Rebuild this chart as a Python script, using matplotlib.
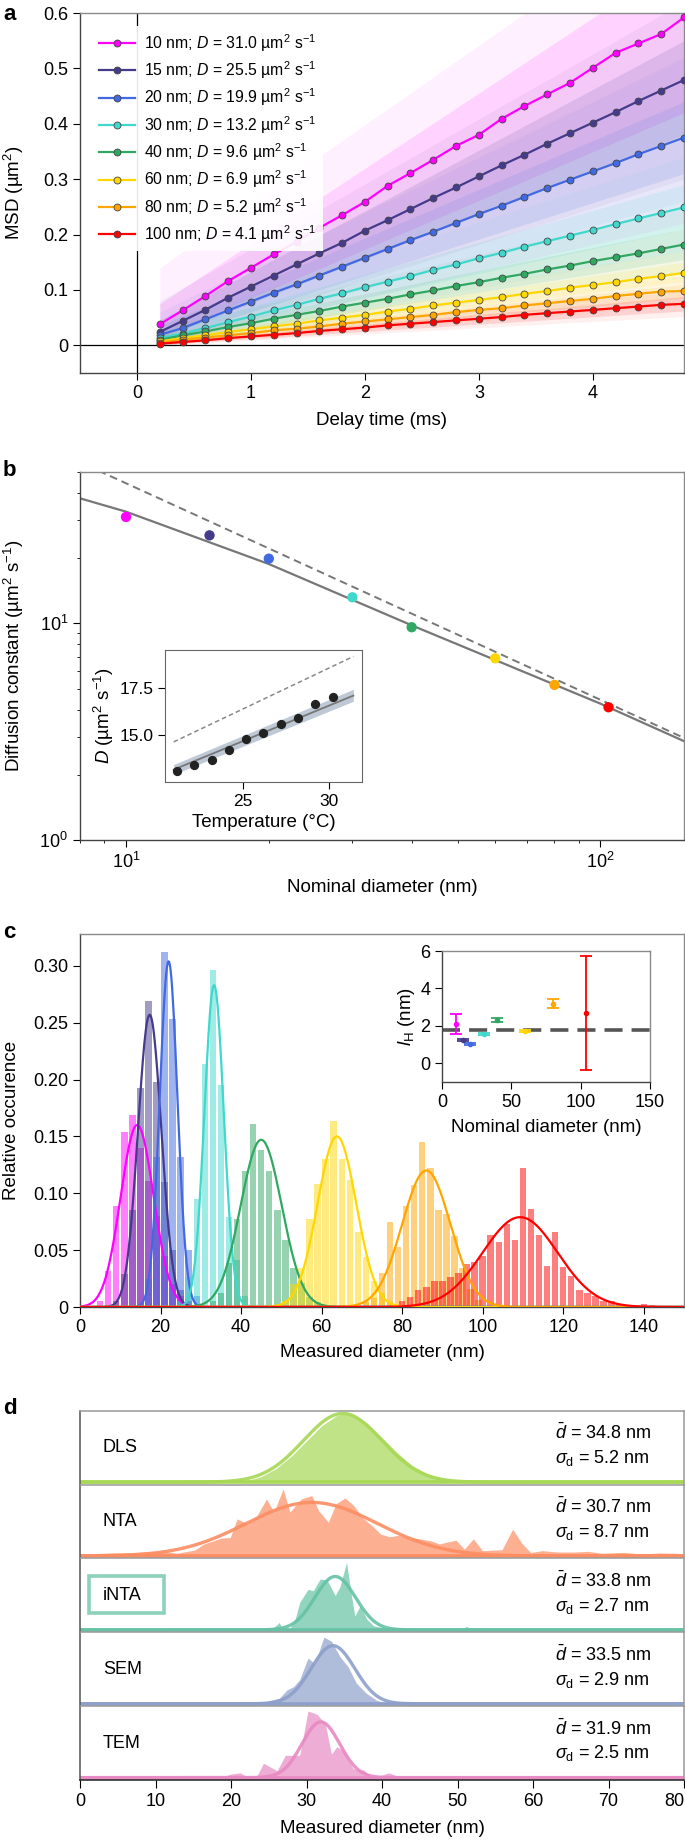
import numpy as np
import matplotlib.pyplot as plt
from matplotlib.patches import Rectangle

plt.rcParams['font.family'] = ['Liberation Sans', 'DejaVu Sans']
plt.rcParams['mathtext.fontset'] = 'custom'
plt.rcParams['mathtext.rm'] = 'Liberation Sans'
plt.rcParams['mathtext.it'] = 'Liberation Sans:italic'
plt.rcParams['mathtext.bf'] = 'Liberation Sans:bold'
plt.rcParams['font.size'] = 13
plt.rcParams['xtick.labelsize'] = 13
plt.rcParams['ytick.labelsize'] = 13
plt.rcParams['xtick.major.size'] = 5
plt.rcParams['ytick.major.size'] = 5

# ---------------- data ----------------
sizes = [10, 15, 20, 30, 40, 60, 80, 100]
D_vals = [31.0, 25.5, 19.9, 13.2, 9.6, 6.9, 5.2, 4.1]
colors = ['#ff00ff', '#443b8c', '#4169e1', '#40d8cc', '#31a862', '#ffd700', '#ffa500', '#ff0000']

# panel a: mean MSD curves
delay = [0.2, 0.4, 0.6, 0.8, 1.0, 1.2, 1.4, 1.6, 1.8, 2.0, 2.2, 2.4,
         2.6, 2.8, 3.0, 3.2, 3.4, 3.6, 3.8, 4.0, 4.2, 4.4, 4.6, 4.8]
msd_10 = [0.038, 0.063, 0.089, 0.116, 0.140, 0.164, 0.187, 0.212, 0.235, 0.259, 0.288, 0.311,
          0.335, 0.360, 0.380, 0.409, 0.432, 0.453, 0.474, 0.501, 0.528, 0.545, 0.562, 0.592]
msd_15 = [0.024, 0.044, 0.064, 0.086, 0.106, 0.126, 0.146, 0.166, 0.185, 0.207, 0.226, 0.246,
          0.266, 0.285, 0.305, 0.325, 0.344, 0.364, 0.383, 0.402, 0.421, 0.441, 0.460, 0.479]
msd_20 = [0.019, 0.031, 0.047, 0.063, 0.079, 0.095, 0.110, 0.126, 0.142, 0.158, 0.174, 0.190,
          0.205, 0.221, 0.237, 0.252, 0.268, 0.284, 0.299, 0.314, 0.329, 0.345, 0.360, 0.375]
msd_30 = [0.013, 0.021, 0.031, 0.042, 0.052, 0.063, 0.073, 0.084, 0.094, 0.105, 0.115, 0.125,
          0.136, 0.146, 0.157, 0.167, 0.178, 0.188, 0.198, 0.208, 0.219, 0.229, 0.239, 0.249]
msd_40 = [0.010, 0.018, 0.025, 0.033, 0.040, 0.048, 0.055, 0.062, 0.070, 0.077, 0.084, 0.092,
          0.099, 0.107, 0.114, 0.122, 0.129, 0.137, 0.144, 0.152, 0.159, 0.166, 0.174, 0.182]
msd_60 = [0.007, 0.013, 0.018, 0.024, 0.029, 0.034, 0.039, 0.045, 0.050, 0.055, 0.061, 0.066,
          0.072, 0.077, 0.082, 0.087, 0.093, 0.098, 0.104, 0.109, 0.114, 0.120, 0.125, 0.131]
msd_80 = [0.005, 0.010, 0.014, 0.018, 0.022, 0.027, 0.030, 0.034, 0.039, 0.043, 0.047, 0.051,
          0.055, 0.060, 0.064, 0.067, 0.072, 0.076, 0.080, 0.084, 0.089, 0.093, 0.097, 0.098]
msd_100 = [0.003, 0.006, 0.009, 0.013, 0.016, 0.019, 0.022, 0.026, 0.029, 0.032, 0.036, 0.039,
           0.042, 0.045, 0.048, 0.051, 0.055, 0.058, 0.061, 0.064, 0.067, 0.070, 0.073, 0.075]
msd_all = [msd_10, msd_15, msd_20, msd_30, msd_40, msd_60, msd_80, msd_100]

# spread of the single-particle tracks (at first and last delay time)
outer_start_lo = [0.0, 0.0, 0.0, 0.0, 0.0, 0.0, 0.0, 0.0]
outer_start_hi = [0.14, 0.08, 0.06, 0.04, 0.03, 0.02, 0.015, 0.01]
outer_end_lo = [0.22, 0.30, 0.26, 0.17, 0.13, 0.10, 0.072, 0.052]
outer_end_hi = [0.80, 0.62, 0.52, 0.34, 0.25, 0.17, 0.125, 0.098]
inner_start_lo = [0.015, 0.012, 0.008, 0.005, 0.004, 0.003, 0.002, 0.001]
inner_start_hi = [0.075, 0.045, 0.035, 0.024, 0.018, 0.012, 0.009, 0.006]
inner_end_lo = [0.42, 0.38, 0.31, 0.21, 0.155, 0.115, 0.085, 0.062]
inner_end_hi = [0.70, 0.55, 0.44, 0.29, 0.21, 0.15, 0.11, 0.088]

# panel b
d_nominal = [10, 15, 20, 30, 40, 60, 80, 104]
fit_d = [8, 10, 20, 40, 100, 150]
fit_D = [37.8, 32.8, 18.8, 9.8, 4.26, 2.86]
se_d = [8.75, 150]
se_D = [50.7, 2.96]
temp = [21.2, 22.2, 23.2, 24.2, 25.2, 26.2, 27.2, 28.2, 29.2, 30.2]
D_temp = [13.13, 13.44, 13.70, 14.24, 14.82, 15.12, 15.58, 15.93, 16.67, 17.01]
temp_line = [21.0, 31.4]
D_fit_line = [13.2, 17.1]
D_fit_lo = [12.95, 16.8]
D_fit_hi = [13.47, 17.43]
D_se_line = [14.66, 19.16]

# panel c histograms (2 nm bins): first bin centre and heights
hist_start = [5, 9, 17, 25, 33, 51, 71, 80]
hist_10 = [0.005, 0.032, 0.089, 0.154, 0.169, 0.14, 0.111, 0.08, 0.045, 0.02, 0.01, 0.005]
hist_15 = [0.005, 0.029, 0.085, 0.193, 0.269, 0.198, 0.11, 0.05, 0.015, 0.005]
hist_20 = [0.025, 0.132, 0.312, 0.253, 0.132, 0.05, 0.01]
hist_30 = [0.005, 0.026, 0.095, 0.2135, 0.296, 0.195, 0.079, 0.041, 0.01]
hist_40 = [0.005, 0.012, 0.039, 0.077, 0.12, 0.161, 0.138, 0.12, 0.085, 0.059, 0.034, 0.021, 0.009, 0.004]
hist_60 = [0.005, 0.02, 0.034, 0.077, 0.108, 0.13, 0.164, 0.13, 0.112, 0.066, 0.044, 0.023, 0.012, 0.004]
hist_80 = [0.004, 0.008, 0.03, 0.075, 0.053, 0.089, 0.107, 0.145, 0.122, 0.085, 0.082, 0.062, 0.034, 0.016, 0.006]
hist_100 = [0.005, 0.009, 0.015, 0.018, 0.023, 0.023, 0.026, 0.03, 0.038, 0.04, 0.045, 0.063, 0.057, 0.073,
            0.059, 0.122, 0.086, 0.063, 0.036, 0.066, 0.035, 0.0275, 0.015, 0.012, 0.01, 0.005, 0.005,
            0.003, 0.002, 0.0, 0.003, 0.002]
hist_all = [hist_10, hist_15, hist_20, hist_30, hist_40, hist_60, hist_80, hist_100]
fit_mean = [14.2, 17.3, 22.0, 33.3, 45.0, 63.8, 86.0, 109.3]
fit_sigma = [4.1, 2.9, 2.2, 2.4, 5.1, 4.8, 6.0, 9.3]
fit_peak = [0.160, 0.257, 0.304, 0.283, 0.147, 0.150, 0.120, 0.079]

# panel c inset
lh_d = [10, 15, 20, 30, 40, 60, 80, 104]
lh_val = [2.1, 1.26, 1.05, 1.56, 2.30, 1.71, 3.19, 2.69]
lh_err = [0.52, 0.05, 0.05, 0.05, 0.11, 0.05, 0.22, 3.03]
lh_mean = 1.8

# panel d
methods = ['DLS', 'NTA', 'iNTA', 'SEM', 'TEM']
m_colors = ['#a6d854', '#fc8d62', '#66c2a5', '#8da0cb', '#e78ac3']
m_mean = [34.8, 30.7, 33.8, 33.5, 31.9]
m_sigma = [5.2, 8.7, 2.7, 2.9, 2.5]
m_peak = [1.0, 0.78, 0.777, 0.845, 0.81]
dls_x = [0, 20, 22, 24, 26, 28, 30, 32, 34, 35, 36, 38, 40, 42, 44, 46, 48, 50, 52, 80]
dls_y = [0, 0, 0.02, 0.08, 0.2, 0.38, 0.6, 0.82, 0.97, 1.0, 0.98, 0.86, 0.65, 0.43, 0.24, 0.12, 0.05, 0.02, 0.005, 0]
nta_x = [0, 2.9, 7, 11.1, 12.8, 15.2, 16.4, 18.7, 19.9, 20.8, 22.2, 23.4, 24.7, 25.7, 26.9, 27.8, 29.3,
         30.7, 31.6, 32.9, 33.9, 35.1, 36.3, 37.4, 38.9, 39.8, 41, 42.1, 43.3, 45, 46.5, 47.6, 48.5, 49.8,
         50.9, 52.1, 53.3, 55.9, 57.3, 58.6, 59.7, 61.2, 63.2, 65.6, 67.3, 69.1, 72, 74.4, 76.7, 79, 80]
nta_y = [0.02, 0.04, 0.05, 0.07, 0.04, 0.087, 0.175, 0.26, 0.27, 0.54, 0.47, 0.58, 0.83, 0.64, 0.976, 0.64,
         0.83, 0.88, 0.66, 0.49, 0.76, 0.845, 0.73, 0.56, 0.42, 0.32, 0.28, 0.30, 0.28, 0.25, 0.22, 0.175,
         0.2, 0.23, 0.10, 0.25, 0.078, 0.092, 0.39, 0.175, 0.05, 0.078, 0.058, 0.058, 0.068, 0.04, 0.053,
         0.03, 0.044, 0.04, 0.015]
inta_x = [0, 24.7, 25.7, 26.4, 26.7, 27.8, 28.5, 29.1, 30.2, 30.9, 31.8, 32.7, 33.8, 34.4, 35.3, 35.9,
          36.4, 37.1, 38.0, 38.9, 40.6, 43.3, 44.6, 50.5, 51.2, 52.1, 80]
inta_y = [0, 0, 0.04, 0.107, 0.04, 0.02, 0.155, 0.4, 0.59, 0.57, 0.74, 0.73, 0.5, 0.62, 0.98, 0.54,
          0.2, 0.35, 0.155, 0.06, 0.02, 0.025, 0.0, 0.0, 0.05, 0.0, 0]
sem_x = [0, 23.4, 24.7, 26.4, 27.4, 28.3, 29.1, 30.2, 31.1, 32.3, 33.3, 34.4, 35.5, 36.6, 37.9, 39.3,
         40.6, 42.4, 80]
sem_y = [0, 0, 0.035, 0.08, 0.2, 0.25, 0.35, 0.665, 0.58, 0.97, 0.91, 0.69, 0.54, 0.3, 0.155, 0.05,
         0.01, 0, 0]
tem_x = [0, 18.5, 19.9, 21.2, 22.1, 23.4, 24.3, 26.1, 27.2, 28.1, 29.1, 30.2, 31.4, 32.5, 33.3, 34.0,
         34.9, 36.2, 37.6, 38.4, 39.7, 40.9, 42.0, 42.8, 80]
tem_y = [0, 0, 0.05, 0.07, 0.015, 0.015, 0.21, 0.1, 0.325, 0.325, 0.325, 0.97, 0.92, 0.78, 0.34, 0.45,
         0.39, 0.13, 0.11, 0.024, 0.024, 0.07, 0.024, 0, 0]
m_fill_x = [dls_x, nta_x, inta_x, sem_x, tem_x]
m_fill_y = [dls_y, nta_y, inta_y, sem_y, tem_y]

# ---------------- figure ----------------
W, H = 685, 1841
fig = plt.figure(figsize=(W / 100, H / 100), dpi=100)
LAB = 13.5


def box(left, top, right, bottom):
    return [left / W, 1 - bottom / H, (right - left) / W, (bottom - top) / H]


def style_spines(ax):
    for s in ['top', 'right']:
        ax.spines[s].set_color('#8a8a8a')
    for s in ['left', 'bottom']:
        ax.spines[s].set_color('#444444')
    for s in ax.spines.values():
        s.set_linewidth(1.0)


# ----- a -----
ax_a = fig.add_axes(box(80, 13, 684, 373))
style_spines(ax_a)
t_ends = [delay[0], delay[-1]]
for i in range(len(sizes)):
    ax_a.fill_between(t_ends, [outer_start_lo[i], outer_end_lo[i]], [outer_start_hi[i], outer_end_hi[i]],
                      color=colors[i], alpha=0.06, lw=0, zorder=1)
    ax_a.fill_between(t_ends, [inner_start_lo[i], inner_end_lo[i]], [inner_start_hi[i], inner_end_hi[i]],
                      color=colors[i], alpha=0.12, lw=0, zorder=1)
ax_a.axhline(0, color='k', lw=0.9, zorder=2)
ax_a.axvline(0, color='k', lw=0.9, zorder=2)
for i in range(len(sizes)):
    ax_a.plot(delay, msd_all[i], '-o', color=colors[i], lw=1.6, ms=5, mec='#444444', mew=0.6, zorder=5,
              label='%d nm; $D$ = %.1f µm$^2$ s$^{-1}$' % (sizes[i], D_vals[i]))
ax_a.set_xlim(-0.5, 4.8)
ax_a.set_ylim(-0.05, 0.6)
ax_a.set_xticks([0, 1, 2, 3, 4])
ax_a.set_yticks([0, 0.1, 0.2, 0.3, 0.4, 0.5, 0.6])
ax_a.set_yticklabels(['0', '0.1', '0.2', '0.3', '0.4', '0.5', '0.6'])
ax_a.set_xlabel('Delay time (ms)', fontsize=LAB, labelpad=7)
ax_a.set_ylabel('MSD (µm$^2$)', fontsize=LAB)
ax_a.yaxis.set_label_coords(-0.09, 0.5)
leg = ax_a.legend(loc='upper left', bbox_to_anchor=(0, 1), borderaxespad=0.8, fontsize=11.3,
                  handlelength=2.3, handletextpad=0.6, labelspacing=0.36, frameon=True, fancybox=False)
leg.get_frame().set_facecolor('white')
leg.get_frame().set_edgecolor('none')
leg.get_frame().set_alpha(0.9)
leg.set_zorder(10)

# ----- b -----
ax_b = fig.add_axes(box(80, 472, 684, 840))
style_spines(ax_b)
ax_b.set_xscale('log')
ax_b.set_yscale('log')
ax_b.plot(se_d, se_D, '--', color='#777777', lw=1.4, dashes=(4, 2.5))
ax_b.plot(fit_d, fit_D, '-', color='#777777', lw=1.6)
ax_b.scatter(d_nominal, D_vals, s=55, c=colors, zorder=5, lw=0)
ax_b.set_xlim(8, 150)
ax_b.set_ylim(1, 50)
ax_b.set_xlabel('Nominal diameter (nm)', fontsize=LAB, labelpad=5)
ax_b.set_ylabel('Diffusion constant (µm$^2$ s$^{-1}$)', fontsize=LAB)
ax_b.yaxis.set_label_coords(-0.09, 0.5)

ax_bi = fig.add_axes(box(165, 650, 362, 782))
for s in ax_bi.spines.values():
    s.set_color('#666666')
ax_bi.fill_between(temp_line, D_fit_lo, D_fit_hi, color='#aebccb', alpha=0.8, lw=0)
ax_bi.plot(temp_line, D_fit_line, color='#777777', lw=1.3)
ax_bi.plot(temp_line, D_se_line, '--', color='#888888', lw=1.1, dashes=(3, 2))
ax_bi.scatter(temp, D_temp, s=32, color='#222222', zorder=5)
ax_bi.set_xlim(20.5, 31.9)
ax_bi.set_ylim(12.55, 19.5)
ax_bi.set_xticks([25, 30])
ax_bi.set_yticks([15.0, 17.5])
ax_bi.set_yticklabels(['15.0', '17.5'])
ax_bi.tick_params(labelsize=12.5)
ax_bi.set_xlabel('Temperature (°C)', fontsize=LAB)
ax_bi.set_ylabel('$D$ (µm$^2$ s$^{-1}$)', fontsize=LAB, labelpad=2)

# ----- c -----
ax_c = fig.add_axes(box(80, 934, 684, 1307))
style_spines(ax_c)
xg = np.linspace(0, 150, 800)
for i in range(len(sizes)):
    centers = hist_start[i] + 2 * np.arange(len(hist_all[i]))
    ax_c.bar(centers, hist_all[i], width=1.6, color=colors[i], alpha=0.5, lw=0, zorder=2)
for i in range(len(sizes)):
    ax_c.plot(xg, fit_peak[i] * np.exp(-(xg - fit_mean[i]) ** 2 / (2 * fit_sigma[i] ** 2)),
              color=colors[i], lw=1.6, zorder=3)
ax_c.set_xlim(0, 150)
ax_c.set_ylim(0, 0.328)
ax_c.set_xticks(range(0, 141, 20))
ax_c.set_yticks([0, 0.05, 0.10, 0.15, 0.20, 0.25, 0.30])
ax_c.set_yticklabels(['0', '0.05', '0.10', '0.15', '0.20', '0.25', '0.30'])
ax_c.set_xlabel('Measured diameter (nm)', fontsize=LAB, labelpad=6)
ax_c.set_ylabel('Relative occurence', fontsize=LAB)
ax_c.yaxis.set_label_coords(-0.1, 0.5)

ax_ci = fig.add_axes(box(442, 951, 650, 1082))
style_spines(ax_ci)
ax_ci.axhline(lh_mean, color='#555555', lw=2.6, dashes=(5, 2.5), zorder=1)
for i in range(len(lh_d)):
    ax_ci.errorbar(lh_d[i], lh_val[i], yerr=lh_err[i], fmt='o', ms=3, color=colors[i],
                   ecolor=colors[i], elinewidth=1.3, capsize=4.5, capthick=1.3, zorder=3)
ax_ci.set_xlim(0, 150)
ax_ci.set_ylim(-1, 6)
ax_ci.set_xticks([0, 50, 100, 150])
ax_ci.set_yticks([0, 2, 4, 6])
ax_ci.set_xlabel('Nominal diameter (nm)', fontsize=LAB, labelpad=6)
ax_ci.set_ylabel('$l_\\mathrm{H}$ (nm)', fontsize=LAB, labelpad=2)

# ----- d -----
d_top = 1410.7
d_h = 73.86
xd = np.linspace(0, 80, 600)
for i in range(len(methods)):
    ax = fig.add_axes(box(80, d_top + i * d_h, 684, d_top + (i + 1) * d_h))
    ax.spines['top'].set_color('#999999')
    ax.spines['right'].set_color('#999999')
    ax.spines['left'].set_color('#555555')
    ax.spines['bottom'].set_visible(i == len(methods) - 1)
    ax.spines['bottom'].set_color('#222222')
    for s in ax.spines.values():
        s.set_linewidth(1.1)
    c = m_colors[i]
    ax.fill_between(m_fill_x[i], 0, m_fill_y[i], color=c, alpha=0.7, lw=0)
    ax.plot(xd, m_peak[i] * np.exp(-(xd - m_mean[i]) ** 2 / (2 * m_sigma[i] ** 2)), color=c, lw=2.4, alpha=0.9)
    ax.axhline(0, color=c, lw=2.6)
    ax.set_xlim(0, 80)
    ax.set_ylim(-0.035, 1.04)
    ax.set_yticks([])
    ax.text(0.038, 0.5, methods[i], transform=ax.transAxes, fontsize=13, va='center', ha='left')
    ax.text(0.786, 0.70, '$\\bar{d}$ = %.1f nm' % m_mean[i], transform=ax.transAxes, fontsize=13,
            va='center', ha='left')
    ax.text(0.786, 0.36, '$\\sigma_\\mathrm{d}$ = %.1f nm' % m_sigma[i], transform=ax.transAxes,
            fontsize=13, va='center', ha='left')
    if i < len(methods) - 1:
        ax.set_xticks([])
    else:
        ax.set_xticks(range(0, 81, 10))
        ax.tick_params(axis='x', length=6)
        ax.get_xticklabels()[-1].set_horizontalalignment('right')
        ax.set_xlabel('Measured diameter (nm)', fontsize=LAB, labelpad=7)
    if methods[i] == 'iNTA':
        ax.add_patch(Rectangle((0.0149, 0.265), 0.125, 0.50, transform=ax.transAxes, fill=False,
                               ec='#66c2a5', lw=2.6, alpha=0.75))

# panel letters
for letter, y in [('a', 4), ('b', 460), ('c', 922), ('d', 1398)]:
    fig.text(3 / W, 1 - y / H, letter, fontsize=16, fontweight='bold', va='top', ha='left')

fig.savefig('out.png', dpi=100)
